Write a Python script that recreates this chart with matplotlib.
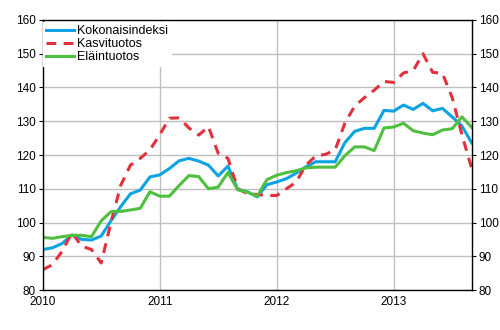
import matplotlib.pyplot as plt
import numpy as np

plt.rcParams['font.family'] = ['Liberation Sans', 'DejaVu Sans']

# monthly index values, Jan 2010 - Sep 2013
kokonais = [92, 92.5, 93.8, 96.3, 95, 94.8, 96, 100.5, 104.7, 108.5, 109.6, 113.5,
            114.1, 116, 118.3, 119, 118.2, 117, 113.8, 116.7, 109.8, 109.1, 107.6, 111.2,
            112, 113, 114.6, 116.5, 118, 118, 118, 123.7, 127, 127.9, 127.9, 133.2,
            133, 134.8, 133.5, 135.3, 133.1, 133.8, 131.3, 128.6, 123.6]
kasvi = [86, 87.5, 91.5, 97, 93, 92, 88, 100, 111, 117, 119, 121.5,
         126, 130.9, 131, 128, 125.9, 128.4, 120.5, 119, 110, 108.5, 108.3, 108,
         108, 110, 112, 117, 119.7, 120.2, 121.5, 129.5, 134.5, 137, 139.2, 141.8,
         141.5, 144.3, 145, 150, 144.5, 144.2, 137, 126, 116]
elain = [95.6, 95.3, 95.8, 96.2, 96.2, 95.8, 100.5, 103.2, 103.3, 103.7, 104.2, 109.1,
         107.8, 107.8, 111, 113.9, 113.6, 110, 110.5, 114.8, 109.7, 109, 107.8, 112.7,
         114, 114.8, 115.3, 116.2, 116.4, 116.4, 116.4, 119.8, 122.4, 122.4, 121.3, 128,
         128.3, 129.4, 127.2, 126.5, 126, 127.4, 127.8, 131.3, 128.2]
years = ['2010', '2011', '2012', '2013']

months = np.arange(len(kokonais))

fig = plt.figure(figsize=(5, 3.3), dpi=100)
ax = fig.add_axes([0.0854, 0.1212, 0.858, 0.8182])

ax.plot(months, kokonais, color='#0ba3e4', lw=2.2, label='Kokonaisindeksi')
ax.plot(months, kasvi, color='#e3303b', lw=2.2, dashes=(3.2, 2.4), label='Kasvituotos')
ax.plot(months, elain, color='#4fbf3f', lw=2.2, label='Eläintuotos')

ax.set_xlim(0, len(kokonais) - 1)
ax.set_ylim(80, 160)
ax.set_yticks(range(80, 161, 10))
ax.set_xticks([12 * i for i in range(len(years))])
ax.set_xticklabels(years)
ax.grid(True, color='#bfbfbf', lw=1)
ax.set_axisbelow(True)
for s in ax.spines.values():
    s.set_color('black')
    s.set_linewidth(1)
ax.tick_params(axis='y', direction='out', length=3, labelsize=8.5, pad=2,
               right=True, labelright=True)
ax.tick_params(axis='x', length=0, labelsize=8.5, pad=4)

leg = ax.legend(loc='upper left', bbox_to_anchor=(-0.005, 1.0), frameon=True,
                fontsize=9, handlelength=2.3, handletextpad=0.25,
                labelspacing=0.1, borderpad=0.2, borderaxespad=0.2, fancybox=False)
leg.get_frame().set_edgecolor('white')
leg.get_frame().set_facecolor('white')
leg.get_frame().set_alpha(1)

fig.savefig('out.png', dpi=100)
